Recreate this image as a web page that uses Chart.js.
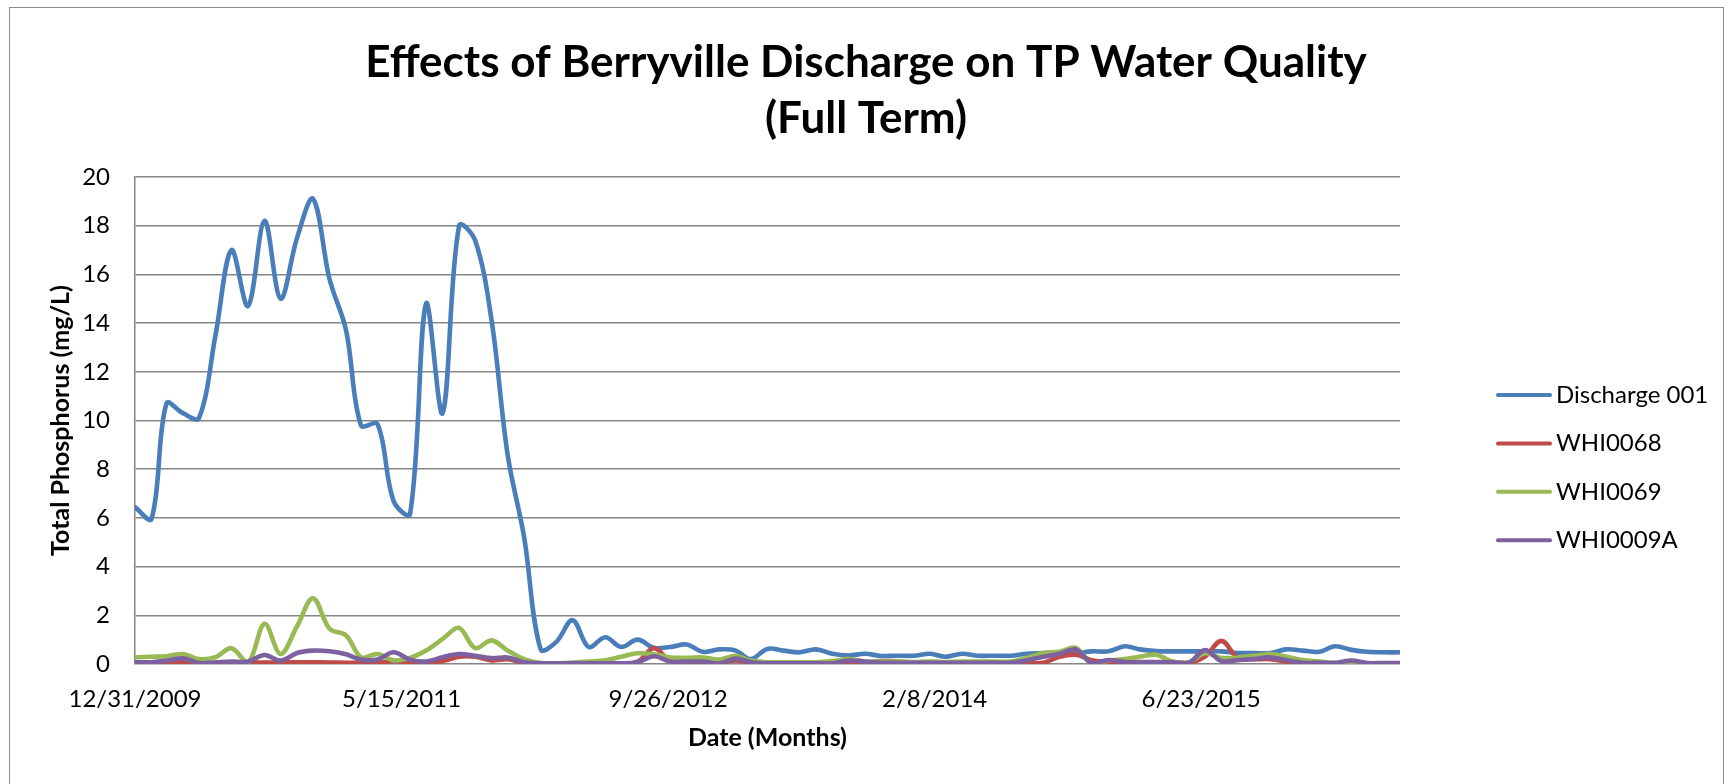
<!DOCTYPE html>
<html>
<head>
<meta charset="utf-8">
<title>Effects of Berryville Discharge on TP Water Quality</title>
<script src="https://cdn.jsdelivr.net/npm/chart.js@4.4.1/dist/chart.umd.min.js"></script>
<style>
  html, body { margin: 0; padding: 0; background: #fff; }
  #wrap { width: 1732px; height: 784px; }
  canvas { display: block; }
</style>
</head>
<body>
<div id="wrap"><canvas id="tpChart" width="1732" height="784"></canvas></div>
<script>
// ================== DATA ================== //

// sample dates (month ends), first date is the axis origin
const sampleDates = [
  '12/31/2009',
  '1/31/2010', '2/28/2010', '3/31/2010', '4/30/2010', '5/31/2010', '6/30/2010',
  '7/31/2010', '8/31/2010', '9/30/2010', '10/31/2010', '11/30/2010', '12/31/2010',
  '1/31/2011', '2/28/2011', '3/31/2011', '4/30/2011', '5/31/2011', '6/30/2011',
  '7/31/2011', '8/31/2011', '9/30/2011', '10/31/2011', '11/30/2011', '12/31/2011',
  '1/31/2012', '2/29/2012', '3/31/2012', '4/30/2012', '5/31/2012', '6/30/2012',
  '7/31/2012', '8/31/2012', '9/30/2012', '10/31/2012', '11/30/2012', '12/31/2012',
  '1/31/2013', '2/28/2013', '3/31/2013', '4/30/2013', '5/31/2013', '6/30/2013',
  '7/31/2013', '8/31/2013', '9/30/2013', '10/31/2013', '11/30/2013', '12/31/2013',
  '1/31/2014', '2/28/2014', '3/31/2014', '4/30/2014', '5/31/2014', '6/30/2014',
  '7/31/2014', '8/31/2014', '9/30/2014', '10/31/2014', '11/30/2014', '12/31/2014',
  '1/31/2015', '2/28/2015', '3/31/2015', '4/30/2015', '5/31/2015', '6/30/2015',
  '7/31/2015', '8/31/2015', '9/30/2015', '10/31/2015', '11/30/2015', '12/31/2015',
  '1/31/2016', '2/29/2016', '3/31/2016', '4/30/2016', '5/31/2016', '6/30/2016'
];

// Total phosphorus, mg/L
const discharge001 = [
  6.44, 5.96, 10.7, 10.3, 10.1, 13.5, 17.0, 14.7, 18.2, 15.0, 17.5, 19.1, 15.8,
  13.7, 9.8, 9.85, 6.7, 6.16, 14.8, 10.3, 18.0, 17.4, 14.1, 8.6, 5.2,
  0.6, 0.9, 1.8, 0.7, 1.1, 0.7, 1.0, 0.66, 0.7, 0.8, 0.5, 0.6,
  0.55, 0.2, 0.62, 0.55, 0.48, 0.6, 0.42, 0.35, 0.42, 0.33, 0.34, 0.34,
  0.42, 0.3, 0.42, 0.34, 0.34, 0.34, 0.42, 0.45, 0.45, 0.45, 0.52, 0.52,
  0.73, 0.6, 0.53, 0.52, 0.52, 0.52, 0.52, 0.45, 0.45, 0.45, 0.6, 0.55,
  0.5, 0.73, 0.58, 0.5, 0.48, 0.48
];

const whi0068 = [
  0.03, 0.03, 0.05, 0.1, 0.03, 0.03, 0.05, 0.05, 0.06, 0.06, 0.07, 0.07, 0.06,
  0.05, 0.04, 0.05, 0.12, 0.08, 0.05, 0.12, 0.3, 0.3, 0.15, 0.2, 0.05,
  0.02, 0.02, 0.02, 0.02, 0.02, 0.02, 0.1, 0.65, 0.12, 0.1, 0.1, 0.05,
  0.15, 0.05, 0.05, 0.05, 0.05, 0.05, 0.05, 0.05, 0.05, 0.12, 0.1, 0.05,
  0.05, 0.05, 0.05, 0.05, 0.05, 0.05, 0.05, 0.05, 0.3, 0.38, 0.15, 0.08,
  0.08, 0.08, 0.08, 0.08, 0.05, 0.3, 0.95, 0.25, 0.2, 0.2, 0.1, 0.03,
  0.03, 0.03, 0.03, 0.03, 0.03, 0.03
];

const whi0069 = [
  0.28, 0.3, 0.32, 0.41, 0.2, 0.28, 0.65, 0.04, 1.65, 0.41, 1.55, 2.7, 1.45,
  1.17, 0.28, 0.41, 0.15, 0.25, 0.55, 1.03, 1.48, 0.65, 0.97, 0.55, 0.2,
  0.04, 0.03, 0.06, 0.1, 0.15, 0.3, 0.44, 0.4, 0.27, 0.25, 0.27, 0.18,
  0.34, 0.14, 0.07, 0.07, 0.07, 0.07, 0.12, 0.2, 0.1, 0.1, 0.1, 0.08,
  0.1, 0.08, 0.1, 0.1, 0.1, 0.1, 0.25, 0.45, 0.5, 0.66, 0.0, 0.14,
  0.2, 0.3, 0.38, 0.1, 0.07, 0.44, 0.25, 0.27, 0.34, 0.41, 0.3, 0.16,
  0.1, 0.03, 0.0, 0.02, 0.02, 0.02
];

const whi0009a = [
  0.07, 0.07, 0.14, 0.23, 0.04, 0.07, 0.1, 0.1, 0.37, 0.14, 0.45, 0.55, 0.52,
  0.4, 0.18, 0.18, 0.48, 0.18, 0.1, 0.28, 0.41, 0.34, 0.24, 0.27, 0.07,
  0.03, 0.03, 0.03, 0.03, 0.03, 0.03, 0.07, 0.32, 0.1, 0.1, 0.1, 0.02,
  0.22, 0.07, 0.03, 0.03, 0.03, 0.03, 0.03, 0.14, 0.1, 0.05, 0.05, 0.05,
  0.05, 0.05, 0.05, 0.05, 0.05, 0.05, 0.15, 0.3, 0.42, 0.6, 0.03, 0.16,
  0.08, 0.07, 0.07, 0.07, 0.05, 0.57, 0.12, 0.16, 0.2, 0.27, 0.15, 0.05,
  0.05, 0.05, 0.14, 0.04, 0.04, 0.04
];

const seriesNames = ['Discharge 001', 'WHI0068', 'WHI0069', 'WHI0009A'];
const seriesValues = [discharge001, whi0068, whi0069, whi0009a];

const chartTitle = ['Effects of Berryville Discharge on TP Water Quality', '(Full Term)'];
const xTitle = 'Date (Months)';
const yTitle = 'Total Phosphorus (mg/L)';

// y axis 0..20 by 2, date axis major unit 500 days
const yMin = 0, yMax = 20, yStep = 2;
const dateStepDays = 500;

// ================== STYLE ================== //

const STYLE = {
  font: 'Lato, "Open Sans", sans-serif',
  grid: '#868686',
  frame: '#8c8c8c',
  lineWidth: 4.6,
  colors: ['#4A7EBB', '#BE4B48', '#98B954', '#7D60A0']
};

const LEGEND = { x1: 1498, x2: 1550, textX: 1556, top: 395, gap: 48.4, size: 24 };

// ================== HELPERS ================== //

const DAY_MS = 86400000;

function parseDate(str) {
  const [m, d, y] = str.split('/').map(Number);
  return Date.UTC(y, m - 1, d);
}

const originMs = parseDate(sampleDates[0]);

function toDays(str) {
  return Math.round((parseDate(str) - originMs) / DAY_MS);
}

function formatDay(days) {
  const dt = new Date(originMs + days * DAY_MS);
  return `${dt.getUTCMonth() + 1}/${dt.getUTCDate()}/${dt.getUTCFullYear()}`;
}

function buildDatasets() {
  const xs = sampleDates.map(toDays);
  return seriesNames.map((name, i) => ({
    label: name,
    data: seriesValues[i].map((v, k) => ({ x: xs[k], y: v })),
    borderColor: STYLE.colors[i],
    backgroundColor: STYLE.colors[i],
    borderWidth: STYLE.lineWidth,
    borderCapStyle: 'round',
    borderJoinStyle: 'round',
    pointRadius: 0,
    tension: 0.35,
    fill: false,
    order: seriesNames.length - 1 - i   // later series drawn on top
  }));
}

// ================== PLUGINS ================== //

// white background + chart frame
const framePlugin = {
  id: 'frame',
  beforeDraw(chart) {
    const ctx = chart.ctx;
    ctx.save();
    ctx.fillStyle = '#fff';
    ctx.fillRect(0, 0, chart.width, chart.height);
    ctx.strokeStyle = STYLE.frame;
    ctx.lineWidth = 1;
    ctx.strokeRect(9.5, 7.5, 1714, 900);
    ctx.restore();
  }
};

// legend on the right, drawn by hand to sit where Excel put it
const sideLegend = {
  id: 'sideLegend',
  afterDraw(chart) {
    const ctx = chart.ctx;
    ctx.save();
    ctx.font = `${LEGEND.size}px ${STYLE.font}`;
    ctx.textBaseline = 'middle';
    ctx.textAlign = 'left';
    chart.data.datasets.forEach((ds, i) => {
      const y = LEGEND.top + i * LEGEND.gap;
      ctx.strokeStyle = ds.borderColor;
      ctx.lineWidth = 4;
      ctx.lineCap = 'round';
      ctx.beginPath();
      ctx.moveTo(LEGEND.x1, y);
      ctx.lineTo(LEGEND.x2, y);
      ctx.stroke();
      ctx.fillStyle = '#000';
      ctx.fillText(ds.label, LEGEND.textX, y);
    });
    ctx.restore();
  }
};

// ================== CHART ================== //

function initChart() {
  const lastDay = toDays(sampleDates[sampleDates.length - 1]);
  const tickFont = { family: STYLE.font, size: 24 };
  const axisTitleFont = { family: STYLE.font, size: 25, weight: 'bold', lineHeight: 1.2 };

  return new Chart(document.getElementById('tpChart').getContext('2d'), {
    type: 'line',
    data: { datasets: buildDatasets() },
    options: {
      responsive: false,
      animation: false,
      devicePixelRatio: 1,
      layout: { padding: 0 },
      plugins: {
        legend: { display: false },
        tooltip: { enabled: false },
        title: {
          display: true,
          text: chartTitle,
          color: '#000',
          font: { family: STYLE.font, size: 44, weight: 'bold', lineHeight: 56 / 44 },
          padding: { top: 35, bottom: 30 }
        }
      },
      scales: {
        x: {
          type: 'linear',
          min: 0,
          max: lastDay,
          afterFit: (s) => { s.height = 120; },
          // major unit of 500 days starting at the first date
          afterBuildTicks: (s) => {
            const ticks = [];
            for (let v = 0; v <= lastDay; v += dateStepDays) ticks.push({ value: v });
            s.ticks = ticks;
          },
          grid: { display: false, drawTicks: false },
          border: { display: false },
          ticks: {
            autoSkip: false,
            maxRotation: 0,
            padding: 21,
            color: '#000',
            font: tickFont,
            callback: (v) => formatDay(v)
          },
          title: {
            display: true,
            text: xTitle,
            color: '#000',
            font: axisTitleFont,
            padding: { top: 0, bottom: 31 }
          }
        },
        y: {
          min: yMin,
          max: yMax,
          afterFit: (s) => { s.width = 135; },
          grid: { color: STYLE.grid, lineWidth: 1.5, drawTicks: false },
          border: { display: true, color: STYLE.grid, width: 1.5 },
          ticks: {
            stepSize: yStep,
            padding: 25,
            color: '#000',
            font: tickFont
          },
          title: {
            display: true,
            text: yTitle,
            color: '#000',
            font: axisTitleFont,
            padding: { top: 46, bottom: 0 }
          }
        },
        // empty right-hand band that holds the legend area
        legendBand: {
          axis: 'y',
          position: 'right',
          afterFit: (s) => { s.width = 332; },
          grid: { display: false, drawTicks: false },
          border: { display: false },
          ticks: { display: false }
        }
      }
    },
    plugins: [framePlugin, sideLegend]
  });
}

document.addEventListener('DOMContentLoaded', initChart);
</script>
</body>
</html>
